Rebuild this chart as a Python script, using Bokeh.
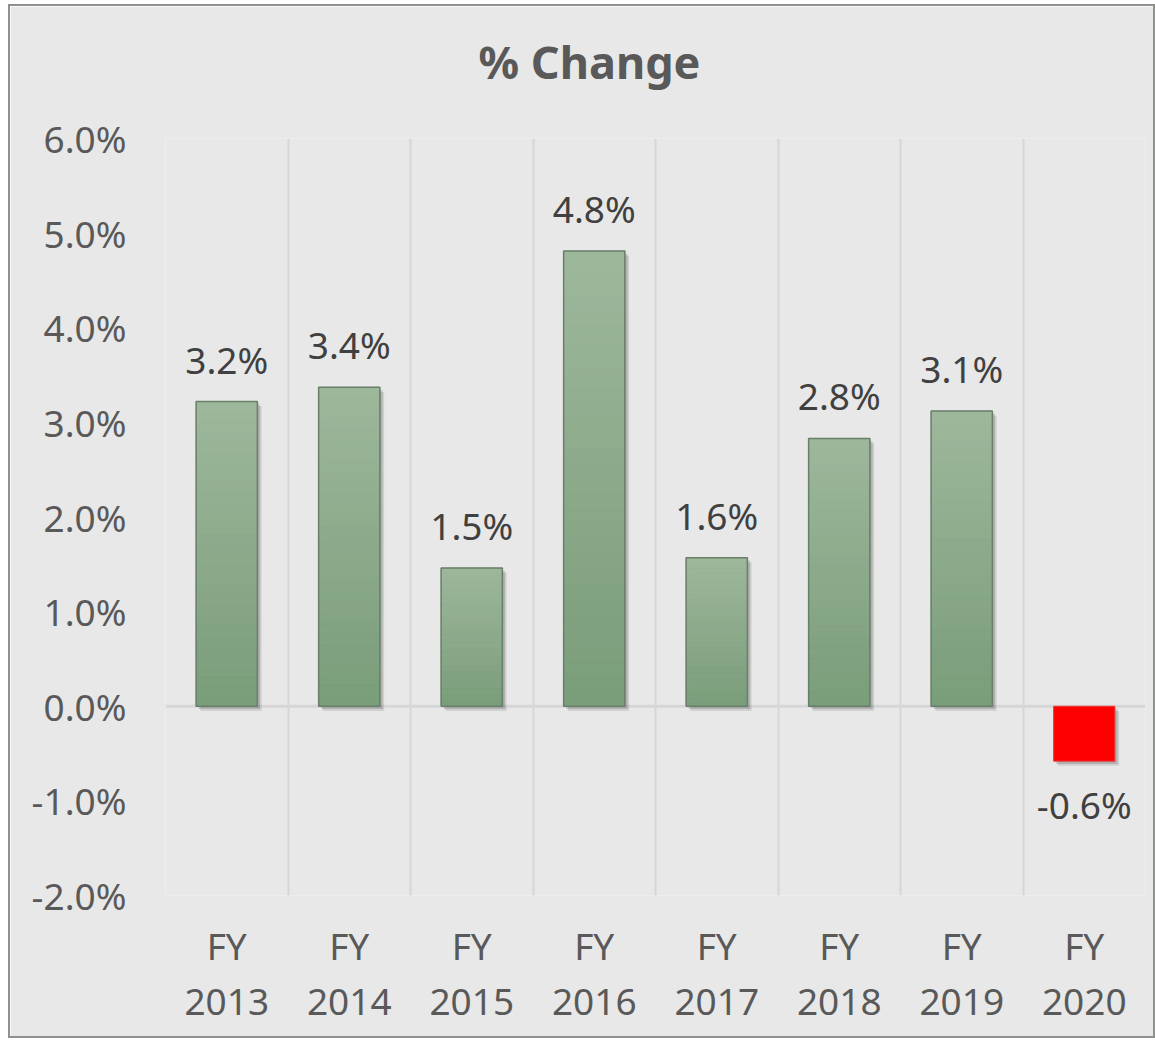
from bokeh.plotting import figure
from bokeh.models import (FixedTicker, PrintfTickFormatter, Span, LinearAxis,
                          ColumnDataSource, Range1d, Title)
from bokeh.embed import file_html
from bokeh.resources import INLINE
from bokeh.core.properties import value

# ---- data ----
title_text = "% Change"
fy_labels = ["FY", "FY", "FY", "FY", "FY", "FY", "FY", "FY"]
years = ["2013", "2014", "2015", "2016", "2017", "2018", "2019", "2020"]
pct_change = [3.22, 3.37, 1.46, 4.81, 1.57, 2.83, 3.12, -0.58]
y_ticks = [-2, -1, 0, 1, 2, 3, 4, 5, 6]

FONT = "Noto Sans"
TXT = "#595959"
BG = "#e8e8e8"

n = len(years)
centers = [i + 0.5 for i in range(n)]

p = figure(width=1147, height=1034, output_backend="svg", toolbar_location=None,
           x_range=Range1d(0, n), y_range=Range1d(-2, 6),
           min_border_left=155, min_border_right=12, min_border_top=132,
           min_border_bottom=145, background_fill_color=BG,
           border_fill_color=BG, outline_line_color=None)
p.styles = {"border": "2px solid #8f918c", "box-sizing": "border-box",
            "margin-left": "8px", "margin-top": "4px"}

# spacer between frame and title, then the title itself
p.add_layout(Title(text=" ", text_font_size="1px", standoff=44,
                   text_color=BG), "above")
p.add_layout(Title(text=title_text, align="left", offset=313, standoff=0,
                   text_font=FONT, text_font_size="45px",
                   text_font_style="bold", text_color=TXT), "above")

# grids
p.ygrid.grid_line_color = None
p.xgrid.ticker = FixedTicker(ticks=list(range(n + 1)))
p.xgrid.grid_line_color = "#d6d6d6"
p.xgrid.grid_line_width = 2
p.add_layout(Span(location=0, dimension="width", line_color="#d6d6d6",
                  line_width=3, level="underlay"))

# y axis
p.yaxis.ticker = FixedTicker(ticks=y_ticks)
p.yaxis.formatter = PrintfTickFormatter(format="%.1f%%")
for ax in [p.yaxis[0]]:
    ax.axis_line_color = None
    ax.major_tick_line_color = None
    ax.minor_tick_line_color = None
    ax.major_label_text_font = FONT
    ax.major_label_text_font_size = "37px"
    ax.major_label_text_color = TXT
    ax.major_label_standoff = 33

# x axes (two rows: "FY" and year)
xa = p.xaxis[0]
xa.ticker = FixedTicker(ticks=centers)
xa.major_label_overrides = {c: t for c, t in zip(centers, fy_labels)}
xa2 = LinearAxis(ticker=FixedTicker(ticks=centers),
                 major_label_overrides={c: t for c, t in zip(centers, years)})
p.add_layout(xa2, "below")
for ax, so in [(xa, 18), (xa2, 9)]:
    ax.axis_line_color = None
    ax.major_tick_line_color = None
    ax.minor_tick_line_color = None
    ax.major_label_text_font = FONT
    ax.major_label_text_font_size = "37px"
    ax.major_label_text_color = TXT
    ax.major_label_standoff = so

# shadows
p.vbar(x=[c + 0.035 for c in centers], width=0.5, bottom=[-0.05] * n,
       top=[v - 0.05 for v in pct_change],
       fill_color="black", fill_alpha=0.10, line_color=None)
p.vbar(x=[c + 0.022 for c in centers], width=0.5, bottom=[-0.03] * n,
       top=[v - 0.03 for v in pct_change],
       fill_color="black", fill_alpha=0.15, line_color=None)

# gradient bars for positive values
N = 30
top_c = (157, 183, 155)
bot_c = (122, 157, 122)
xs, bs, ts, cs = [], [], [], []
for c, v in zip(centers, pct_change):
    if v <= 0:
        continue
    for i in range(N):
        f = i / (N - 1)
        col = tuple(int(round(bot_c[k] + (top_c[k] - bot_c[k]) * f)) for k in range(3))
        xs.append(c)
        bs.append(v * i / N)
        ts.append(v * (i + 1) / N)
        cs.append("#%02x%02x%02x" % col)
p.vbar(x=xs, width=0.5, bottom=bs, top=ts, fill_color=cs, line_color=cs,
       line_width=0.5)

pos_src = ColumnDataSource(dict(
    x=[c for c, v in zip(centers, pct_change) if v > 0],
    top=[v for v in pct_change if v > 0],
    lab=["%.1f%%" % v for v in pct_change if v > 0]))
neg_src = ColumnDataSource(dict(
    x=[c for c, v in zip(centers, pct_change) if v <= 0],
    top=[v for v in pct_change if v <= 0],
    lab=["%.1f%%" % v for v in pct_change if v <= 0]))

p.vbar(x="x", top="top", bottom=0, width=0.5, source=pos_src,
       fill_color=None, line_color="#687f68", line_width=1.5)
p.vbar(x="x", top="top", bottom=0, width=0.5, source=neg_src,
       fill_color="#ff0000", line_color="#e83a3a", line_width=1)

# data labels
p.text(x="x", y="top", text="lab", source=pos_src, text_align="center",
       text_baseline="bottom", y_offset=-17, text_font=value(FONT),
       text_font_size="37px", text_color="#404040")
p.text(x="x", y="top", text="lab", source=neg_src, text_align="center",
       text_baseline="top", y_offset=18, text_font=value(FONT),
       text_font_size="37px", text_color="#404040")

open("out.html", "w").write(file_html(p, INLINE))
